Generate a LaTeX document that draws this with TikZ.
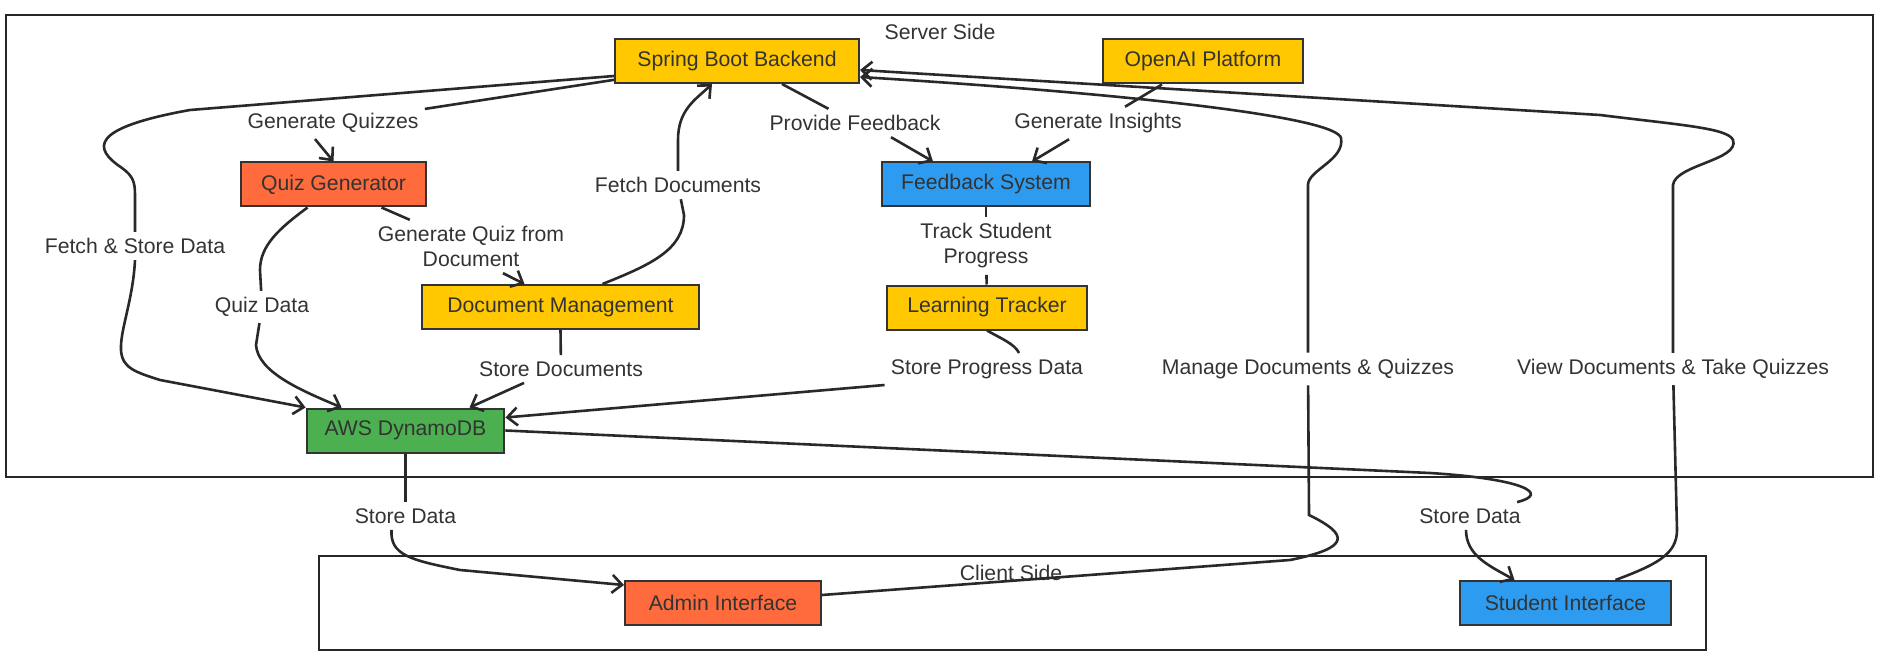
\documentclass[tikz,border=0pt]{standalone}
\usepackage{fontspec}
\setmainfont{Liberation Sans}
\usetikzlibrary{arrows.meta}

\definecolor{boxyellow}{HTML}{FFC800}
\definecolor{boxorange}{HTML}{FF6B3D}
\definecolor{boxblue}{HTML}{2D9CF0}
\definecolor{boxgreen}{HTML}{4CAF50}
\definecolor{ink}{HTML}{333333}

\tikzset{
  rect/.style={draw=ink,fill=#1,line width=1pt,rectangle,minimum height=22pt,inner xsep=9pt,text=ink},
  lbl/.style={text=ink,align=center,inner sep=3pt},
  grp/.style={draw=black!85,line width=0.9pt},
  link/.style={draw=ink!80!black,line width=1.3pt},
  flow/.style={link,-{Straight Barb[length=5pt,width=9pt]}},
}

\begin{document}
\begin{tikzpicture}[x=0.5pt,y=-0.5pt,font=\fontsize{10.6}{12.5}\selectfont]
\useasboundingbox (0,0) rectangle (1893,663);

% groups
\draw[grp] (6,15) rectangle (1873,477);
\draw[grp] (319,556) rectangle (1706,650);
\node[lbl] (server) at (940,32) {Server Side};
\node[lbl] (client) at (1011,573) {Client Side};

% components
\node[rect=boxyellow,minimum width=122pt] (sb) at (737,61) {Spring Boot Backend};
\node[rect=boxyellow,minimum width=100pt] (oa) at (1203,61.5) {OpenAI Platform};
\node[rect=boxorange,minimum width=92.5pt] (qg) at (333.5,184.5) {Quiz Generator};
\node[rect=boxblue,minimum width=104pt] (fs) at (986,184.5) {Feedback System};
\node[rect=boxyellow,minimum width=138.5pt] (dm) at (560.5,307) {Document Management};
\node[rect=boxyellow,minimum width=100pt] (lt) at (987,307.5) {Learning Tracker};
\node[rect=boxgreen,minimum width=93.5pt] (db) at (405.5,430.5) {AWS DynamoDB};
\node[rect=boxorange,minimum width=98pt] (ai) at (723,603) {Admin Interface};
\node[rect=boxblue,minimum width=105.5pt] (si) at (1565.5,603) {Student Interface};

% edge labels
\node[lbl] (gq) at (333,123) {Generate Quizzes};
\node[lbl] (pf) at (855,123) {Provide Feedback};
\node[lbl] (gi) at (1098,123) {Generate Insights};
\node[lbl] (fd) at (678,185) {Fetch Documents};
\node[lbl] (fsd) at (135,246) {Fetch \& Store Data};
\node[lbl] (gqd) at (471,246.5) {Generate Quiz from\\Document};
\node[lbl] (tsp) at (986,246) {Track Student\\Progress};
\node[lbl] (qd) at (262,307) {Quiz Data};
\node[lbl] (sd) at (561,369) {Store Documents};
\node[lbl] (spd) at (987,369) {Store Progress Data};
\node[lbl] (mdq) at (1308,369) {Manage Documents \& Quizzes};
\node[lbl] (vdq) at (1673,369) {View Documents \& Take Quizzes};
\node[lbl] (sda) at (405.5,516) {Store Data};
\node[lbl] (sdb) at (1470,516) {Store Data};

% connectors
\draw[link] (sb) -- (gq);
\draw[flow] ([xshift=-9pt]gq.south) -- (qg.north);

\draw[link] ([yshift=-7.5pt]sb.west) -- (190,110) .. controls (90,128) and (92,148) .. (122,168)
            .. controls (133,176) and (135,182) .. (135,195) -- (fsd);
\draw[flow] (fsd.south) .. controls (133,300) and (120,330) .. (121,350)
            .. controls (122,368) and (135,372) .. (160,380) -- (db.north west);

\draw[link] ([xshift=-13pt]qg.south) .. controls (280,228) and (260,245) .. (260,270) -- (qd);
\draw[flow] (qd) -- (256,345) .. controls (258,372) and (300,390) .. ([xshift=18pt]db.north west);

\draw[link] ([xshift=24pt]qg.south) -- (gqd);
\draw[flow] ([xshift=16pt]gqd.south) -- ([xshift=-18pt]dm.north);

\draw[link] ([xshift=21pt]dm.north) .. controls (650,265) and (684,250) .. (684,215) -- (fd);
\draw[flow] (fd) -- (678,140) .. controls (678,110) and (695,100) .. ([xshift=-12.5pt]sb.south);

\draw[link] ([xshift=22.5pt]sb.south) -- (pf);
\draw[flow] ([xshift=18pt]pf.south) -- ([xshift=-26.5pt]fs.north);

\draw[link] ([xshift=-20.5pt]oa.south) -- (gi);
\draw[flow] ([xshift=-14.5pt]gi.south) -- ([xshift=23pt]fs.north);

\draw[link] (fs) -- (tsp);
\draw[link] (tsp) -- (lt);

\draw[link] (lt.south) .. controls (1000,338) and (1015,344) .. ([xshift=16pt]spd.north);
\draw[flow] (spd.south west) -- ([yshift=-5pt]db.north east);

\draw[link] (dm.south) -- (sd);
\draw[flow] ([xshift=-18.5pt]sd.south) -- ([xshift=32pt]db.north);

\draw[link] (db.south) -- (sda);
\draw[flow] ([xshift=-7pt]sda.south) .. controls (390,555) and (410,560) .. (460,570)
            -- ([yshift=-2.5pt]ai.north west);

\draw[link] (db.east) -- (1430,473) .. controls (1525,479) and (1550,494) .. ([xshift=-5pt]sdb.north east);
\draw[flow] ([xshift=-2pt]sdb.south) .. controls (1466,556) and (1490,566) .. ([xshift=-25.5pt]si.north);

\draw[link] ([yshift=4pt]ai.east) -- (1290,560) .. controls (1350,548) and (1350,535) .. (1309,515) -- (mdq);
\draw[flow] (mdq) -- (1308,185) .. controls (1308,170) and (1345,160) .. (1341,138)
            .. controls (1336,118) and (1150,95) .. ([yshift=-8pt]sb.east);

\draw[link] ([xshift=25pt]si.north) .. controls (1655,565) and (1677,555) .. (1677,530) -- (vdq);
\draw[flow] (vdq) -- (1673,185) .. controls (1675,165) and (1740,160) .. (1733,140)
            .. controls (1728,128) and (1680,125) .. (1600,115) -- ([yshift=-4.5pt]sb.east);
\end{tikzpicture}
\end{document}
